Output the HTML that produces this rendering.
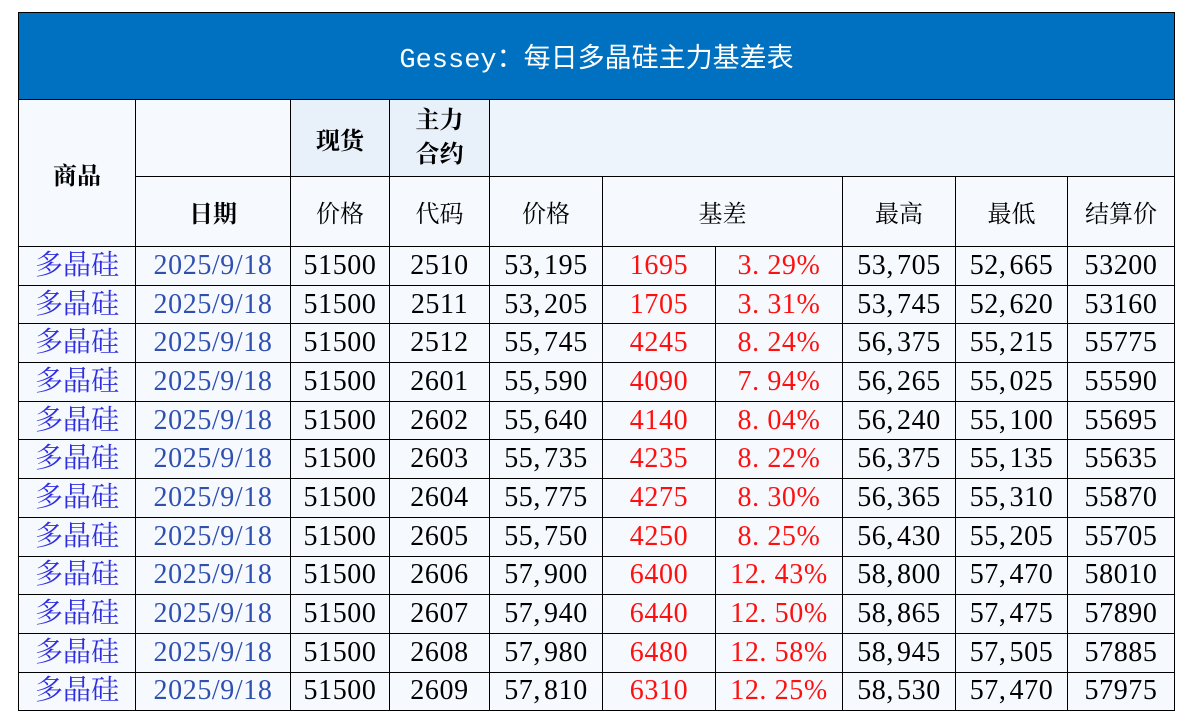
<!DOCTYPE html>
<html><head><meta charset="utf-8"><style>
body{margin:0;background:#fff;width:1182px;height:718px;overflow:hidden;position:relative}
.t{position:absolute;left:18px;top:12px;border-collapse:collapse;table-layout:fixed;font-family:"Liberation Serif","Noto Serif CJK SC",serif;background:#F6FAFE}
.t td{border:1px solid #000;text-align:center;padding:0;white-space:nowrap;font-size:25px;color:#000;overflow:hidden}
.title td{background:#0070C0;color:#fff;height:86px;font-size:27px;font-family:"Liberation Mono","Noto Sans CJK SC",monospace}
.h1 td{height:76px}
.h2 td{height:69px;font-size:24px}
.d td{height:37.7px;font-size:28px;line-height:30px;letter-spacing:0.6px}
.b{font-weight:bold;font-size:24px!important}
.bg{background:#E8F0FA}
.p{color:#2E2EE0!important;letter-spacing:0!important}
.dt{color:#3050B0!important;letter-spacing:0.6px!important}
.r{color:#FF1010!important}
.c{margin-right:3px}
</style></head><body>
<table class="t">
<colgroup><col style="width:117px"><col style="width:155px"><col style="width:99px"><col style="width:100px"><col style="width:113px"><col style="width:113px"><col style="width:127px"><col style="width:113px"><col style="width:112px"><col style="width:107px"></colgroup>
<tr class="title"><td colspan="10">Gessey：每日多晶硅主力基差表</td></tr>
<tr class="h1"><td rowspan="2" class="b">商品</td><td></td><td class="b bg">现货</td><td class="b bg" style="line-height:34px">主力<br>合约</td><td colspan="6" class="bg" style="background:#EEF4FB"></td></tr>
<tr class="h2"><td class="b">日期</td><td>价格</td><td>代码</td><td>价格</td><td colspan="2">基差</td><td>最高</td><td>最低</td><td>结算价</td></tr>
<tr class="d"><td class="p">多晶硅</td><td class="dt">2025/9/18</td><td>51500</td><td>2510</td><td>53<span class="c">,</span>195</td><td class="r">1695</td><td class="r">3.&nbsp;29%</td><td>53<span class="c">,</span>705</td><td>52<span class="c">,</span>665</td><td>53200</td></tr>
<tr class="d"><td class="p">多晶硅</td><td class="dt">2025/9/18</td><td>51500</td><td>2511</td><td>53<span class="c">,</span>205</td><td class="r">1705</td><td class="r">3.&nbsp;31%</td><td>53<span class="c">,</span>745</td><td>52<span class="c">,</span>620</td><td>53160</td></tr>
<tr class="d"><td class="p">多晶硅</td><td class="dt">2025/9/18</td><td>51500</td><td>2512</td><td>55<span class="c">,</span>745</td><td class="r">4245</td><td class="r">8.&nbsp;24%</td><td>56<span class="c">,</span>375</td><td>55<span class="c">,</span>215</td><td>55775</td></tr>
<tr class="d"><td class="p">多晶硅</td><td class="dt">2025/9/18</td><td>51500</td><td>2601</td><td>55<span class="c">,</span>590</td><td class="r">4090</td><td class="r">7.&nbsp;94%</td><td>56<span class="c">,</span>265</td><td>55<span class="c">,</span>025</td><td>55590</td></tr>
<tr class="d"><td class="p">多晶硅</td><td class="dt">2025/9/18</td><td>51500</td><td>2602</td><td>55<span class="c">,</span>640</td><td class="r">4140</td><td class="r">8.&nbsp;04%</td><td>56<span class="c">,</span>240</td><td>55<span class="c">,</span>100</td><td>55695</td></tr>
<tr class="d"><td class="p">多晶硅</td><td class="dt">2025/9/18</td><td>51500</td><td>2603</td><td>55<span class="c">,</span>735</td><td class="r">4235</td><td class="r">8.&nbsp;22%</td><td>56<span class="c">,</span>375</td><td>55<span class="c">,</span>135</td><td>55635</td></tr>
<tr class="d"><td class="p">多晶硅</td><td class="dt">2025/9/18</td><td>51500</td><td>2604</td><td>55<span class="c">,</span>775</td><td class="r">4275</td><td class="r">8.&nbsp;30%</td><td>56<span class="c">,</span>365</td><td>55<span class="c">,</span>310</td><td>55870</td></tr>
<tr class="d"><td class="p">多晶硅</td><td class="dt">2025/9/18</td><td>51500</td><td>2605</td><td>55<span class="c">,</span>750</td><td class="r">4250</td><td class="r">8.&nbsp;25%</td><td>56<span class="c">,</span>430</td><td>55<span class="c">,</span>205</td><td>55705</td></tr>
<tr class="d"><td class="p">多晶硅</td><td class="dt">2025/9/18</td><td>51500</td><td>2606</td><td>57<span class="c">,</span>900</td><td class="r">6400</td><td class="r">12.&nbsp;43%</td><td>58<span class="c">,</span>800</td><td>57<span class="c">,</span>470</td><td>58010</td></tr>
<tr class="d"><td class="p">多晶硅</td><td class="dt">2025/9/18</td><td>51500</td><td>2607</td><td>57<span class="c">,</span>940</td><td class="r">6440</td><td class="r">12.&nbsp;50%</td><td>58<span class="c">,</span>865</td><td>57<span class="c">,</span>475</td><td>57890</td></tr>
<tr class="d"><td class="p">多晶硅</td><td class="dt">2025/9/18</td><td>51500</td><td>2608</td><td>57<span class="c">,</span>980</td><td class="r">6480</td><td class="r">12.&nbsp;58%</td><td>58<span class="c">,</span>945</td><td>57<span class="c">,</span>505</td><td>57885</td></tr>
<tr class="d"><td class="p">多晶硅</td><td class="dt">2025/9/18</td><td>51500</td><td>2609</td><td>57<span class="c">,</span>810</td><td class="r">6310</td><td class="r">12.&nbsp;25%</td><td>58<span class="c">,</span>530</td><td>57<span class="c">,</span>470</td><td>57975</td></tr>
</table>
</body></html>
